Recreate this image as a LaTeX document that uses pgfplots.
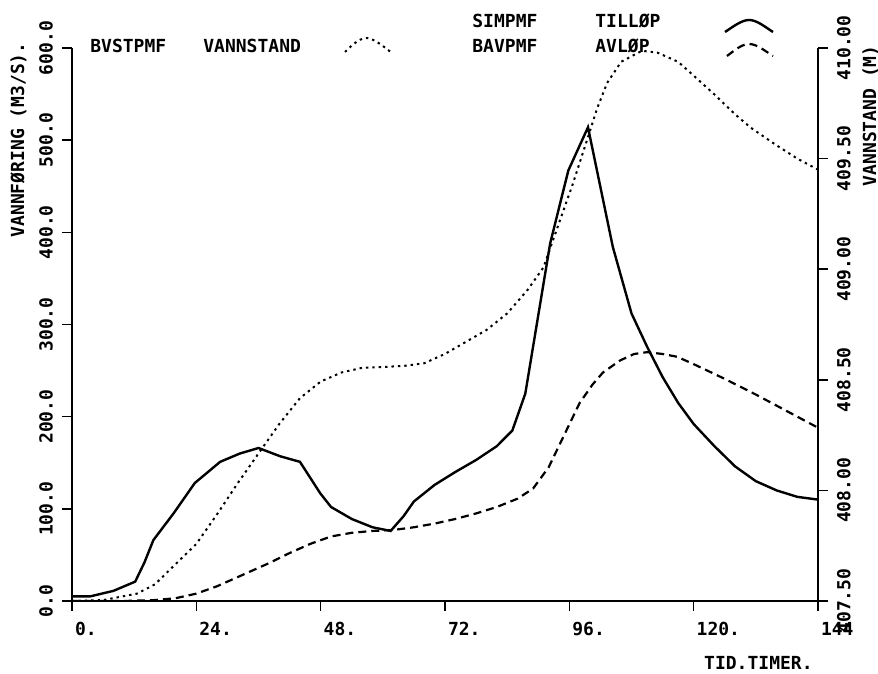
\documentclass[border=0pt]{standalone}
\usepackage{fontspec}
\setmainfont{DejaVu Sans Mono}
\usepackage{pgfplots}
\pgfplotsset{compat=1.18}

\begin{document}
\begin{tikzpicture}[font=\fontsize{9}{10}\selectfont\bfseries]
\pgfplotsset{
  /pgf/number format/assume math mode=true,
  plotbase/.style={
    at={(0,0)}, anchor=south west,
    scale only axis, width=373pt, height=276.5pt,
    xmin=0, xmax=144,
    tick align=outside, major tick length=5pt,
    tick style={line width=0.8pt, black},
    axis line style={line width=0.8pt, -},
  },
}
% left axis: discharge (m3/s)
\begin{axis}[plotbase,
  ymin=0, ymax=600,
  axis x line*=bottom, axis y line*=left,
  x axis line style={line width=1.2pt},
  xtick={0,24,...,144}, xticklabels={0.,24.,48.,72.,96.,120.,144},
  xticklabel style={anchor=north west, xshift=-2pt, yshift=-2pt},
  ytick={0,100,...,600},
  yticklabel={\rotatebox{90}{\pgfmathprintnumber[fixed,fixed zerofill,precision=1]{\tick}}},
  yticklabel style={anchor=east, xshift=-1pt},
]
% TILLØP
\addplot[line width=1.2pt] coordinates {
(0,5) (3.5,5) (8,11) (12.2,21) (14,42) (15.7,66) (19.6,95) (23.7,128)
(28.6,151) (32.4,160) (36,166) (40.2,157) (44,151) (47.9,117) (50,102)
(54,89) (58,80) (61.5,76) (64,92) (66,108) (70,126) (74,140) (78,153)
(82,168) (85,185) (87.5,225) (92.3,388) (95.8,467) (99.6,514) (104.4,384)
(108,312) (111,276) (114,243) (117,215) (120,192) (124,168) (128,146)
(132,130) (136,120) (140,113) (144,110)
};
% AVLØP
\addplot[line width=1.1pt, dash pattern=on 4pt off 2.5pt] coordinates {
(0,0) (10,0) (16,1) (20,3) (24,8) (28,16) (30,21) (34,31) (38,41) (42,52)
(46,62) (50,70) (54,74) (58,76) (62,77) (66,80) (70,84) (74,89) (78,95)
(82,102) (86,111) (89,122) (92,145) (95,180) (98,215) (100.5,235)
(102.5,248) (105.8,261) (108.5,268) (111,270) (114,268) (116.8,265)
(120,257) (126,241) (132,224) (138,206) (144,188)
};
\end{axis}
% right axis: water level (m)
\begin{axis}[plotbase,
  ymin=407.5, ymax=410,
  axis x line=none, axis y line*=right,
  ytick={407.5,408,408.5,409,409.5,410},
  yticklabel={\rotatebox{90}{\pgfmathprintnumber[fixed,fixed zerofill,precision=2]{\tick}}},
  yticklabel style={anchor=west, xshift=1pt},
]
% VANNSTAND
\addplot[line width=1pt, dash pattern=on 1.2pt off 2pt] coordinates {
(0,407.5) (6,407.504) (12.5,407.533) (16,407.575) (20,407.667) (24,407.758)
(28,407.892) (32,408.033) (36,408.167) (40,408.30) (44,408.417) (48,408.492)
(52,408.533) (56,408.554) (60,408.558) (64,408.5625) (68,408.575)
(72,408.617) (76,408.671) (80,408.725) (84,408.80) (88,408.908)
(91,409.008) (94,409.208) (96.7,409.3875) (99.4,409.583) (101.4,409.729)
(103.3,409.842) (106,409.9375) (110,409.9875) (113,409.979) (117,409.9375)
(120,409.875) (124,409.79) (128,409.70) (131,409.64) (136,409.56)
(140,409.50) (144,409.45)
};
\end{axis}
% titles and legend, in pixel units of the 878x674 frame
\begin{scope}[shift={(-36pt,300.5pt)}, x=0.5pt, y=-0.5pt]
\node[anchor=base west, inner sep=0] at (90,53) {BVSTPMF};
\node[anchor=base west, inner sep=0] at (203,53) {VANNSTAND};
\draw[line width=1pt, dash pattern=on 1.2pt off 2pt]
  (345,52) .. controls (355,42) and (361,38) .. (367,38)
  .. controls (375,39) and (384,47) .. (392,53);
\node[anchor=base west, inner sep=0] at (472,28) {SIMPMF};
\node[anchor=base west, inner sep=0] at (595,28) {TILLØP};
\draw[line width=1.2pt]
  (725,32) .. controls (734,26) and (742,20) .. (749,20)
  .. controls (757,20) and (765,27) .. (773,32);
\node[anchor=base west, inner sep=0] at (472,53) {BAVPMF};
\node[anchor=base west, inner sep=0] at (595,53) {AVLØP};
\draw[line width=1.1pt, dash pattern=on 4pt off 2.5pt]
  (727,56) .. controls (735,50) and (742,44) .. (749,44)
  .. controls (757,44) and (765,51) .. (773,56);
\node[anchor=east, inner sep=0] at (813,663) {TID.TIMER.};
\node[rotate=90, anchor=south east, inner sep=0] at (27,42) {VANNFØRING (M3/S).};
\node[rotate=90, anchor=north east, inner sep=0] at (862,45) {VANNSTAND (M)};
\pgfresetboundingbox
\path[use as bounding box] (0,0) rectangle (878,674);
\end{scope}
\end{tikzpicture}
\end{document}
